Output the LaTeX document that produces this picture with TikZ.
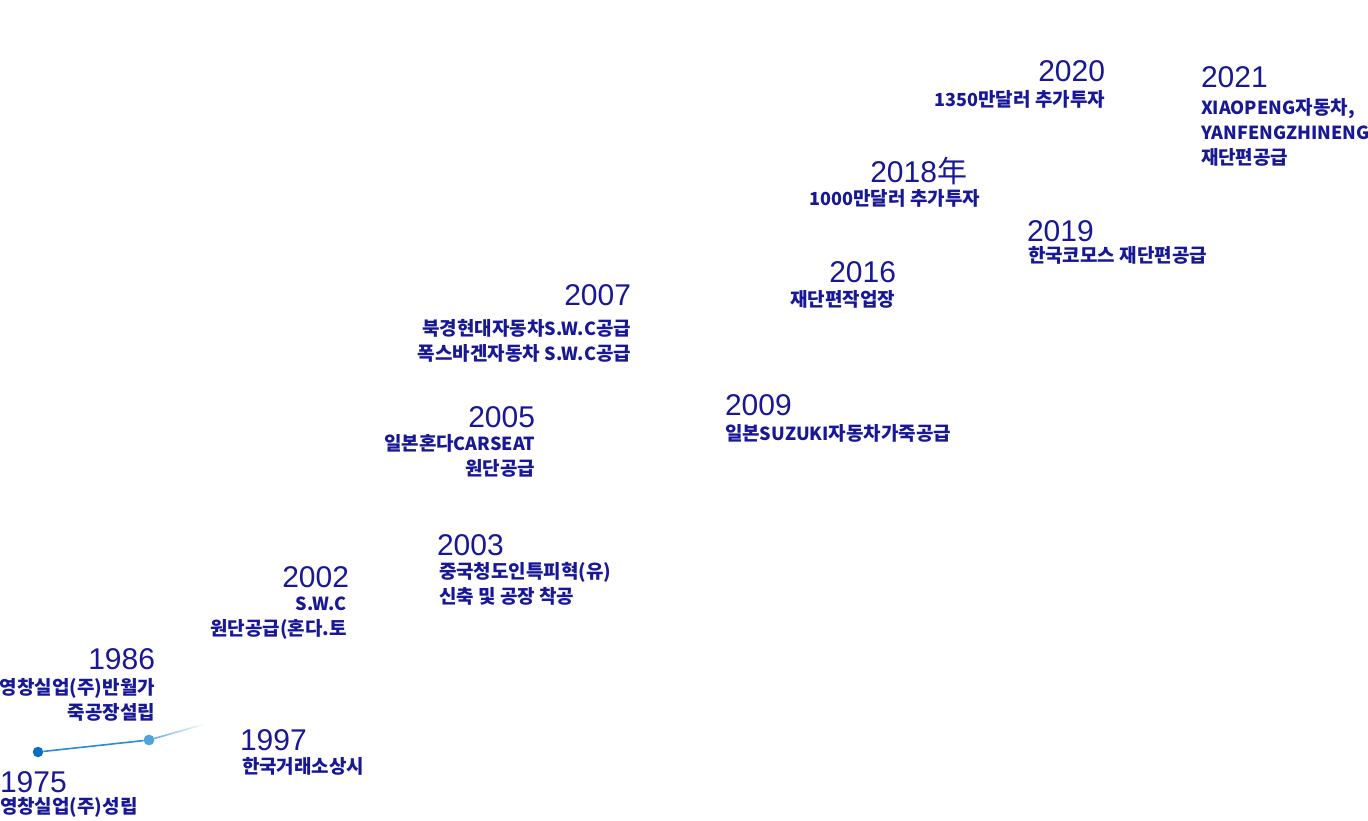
\documentclass[tikz,border=0pt]{standalone}
\usepackage{fontspec}
\setmainfont{Liberation Sans}
\newfontfamily\kr{Noto Sans CJK KR}
\usetikzlibrary{fadings}
\definecolor{txt}{RGB}{24,24,150}
\definecolor{dotA}{RGB}{10,110,192}
\definecolor{dotB}{RGB}{80,164,218}
\definecolor{lineA}{RGB}{40,140,215}
\newcommand\lt[1]{{\fontsize{18}{25}\selectfont #1}}
\tikzset{
  yr/.style={inner sep=0pt,outer sep=0pt,text=txt,font=\fontsize{30}{30}\selectfont},
  ds/.style={inner sep=0pt,outer sep=0pt,text=txt,font=\kr\bfseries\fontsize{19}{25}\selectfont},
  dot/.style={circle,inner sep=0pt,minimum size=10.5pt},
}
\begin{document}
\begin{tikzpicture}[x=1pt,y=-1pt]
\useasboundingbox (0,0) rectangle (1368,821);
% line and dots
\node[dot,fill=dotA] (d1) at (38,752) {};
\node[dot,fill=dotB] (d2) at (149,740) {};
\coordinate (e) at (205,724);
\draw[lineA,line width=1.6pt] (d1) -- (d2);
\draw[lineA!70!white,line width=1.6pt,path fading=east] (d2) -- (e);
\node[dot,fill=dotB] at (d2) {};
% years and texts
\node[yr,anchor=west] (y1975) at (0,782) {1975};
\node[ds,anchor=west] (t1975) at (0,807) {영창실업(주)성립};
\node[yr,anchor=east] (y1986) at (155,659) {1986};
\node[ds,anchor=east,align=right] (t1986) at (155,700) {영창실업(주)반월가\\죽공장설립};
\node[yr,anchor=west] (y1997) at (240,740) {1997};
\node[ds,anchor=west] (t1997) at (242,766) {한국거래소상시};
\node[yr,anchor=east] (y2002) at (349,577) {2002};
\node[ds,anchor=east,align=right] (t2002) at (347,618) {\lt{S.W.C}\\원단공급(혼다.토};
\node[yr,anchor=west] (y2003) at (437,545) {2003};
\node[ds,anchor=west,align=left] (t2003) at (439,583.5) {중국청도인특피혁(유)\\신축 및 공장 착공};
\node[yr,anchor=east] (y2005) at (535,417) {2005};
\node[ds,anchor=east,align=right] (t2005) at (535,455.5) {일본혼다\lt{CARSEAT}\\원단공급};
\node[yr,anchor=east] (y2007) at (631,295) {2007};
\node[ds,anchor=east,align=right] (t2007) at (631,341) {북경현대자동차\lt{S.W.C}공급\\폭스바겐자동차 \lt{S.W.C}공급};
\node[yr,anchor=west] (y2009) at (725,405) {2009};
\node[ds,anchor=west] (t2009) at (725,433) {일본\lt{SUZUKI}자동차가죽공급};
\node[yr,anchor=east] (y2016) at (896,272) {2016};
\node[ds,anchor=east] (t2016) at (895,299) {재단편작업장};
\node[yr,anchor=east] (y2018) at (967,171) {2018{\kr 年}};
\node[ds,anchor=east] (t2018) at (980,198) {\lt{1000}만달러 추가투자};
\node[yr,anchor=west] (y2019) at (1027,231) {2019};
\node[ds,anchor=west] (t2019) at (1028,255) {한국코모스 재단편공급};
\node[yr,anchor=east] (y2020) at (1105,71) {2020};
\node[ds,anchor=east] (t2020) at (1105,99) {\lt{1350}만달러 추가투자};
\node[yr,anchor=west] (y2021) at (1201,77) {2021};
\node[ds,anchor=west,align=left] (t2021) at (1201,132.5) {\lt{XIAOPENG}자동차,\\\lt{YANFENGZHINENG}\\재단편공급};
\end{tikzpicture}
\end{document}
